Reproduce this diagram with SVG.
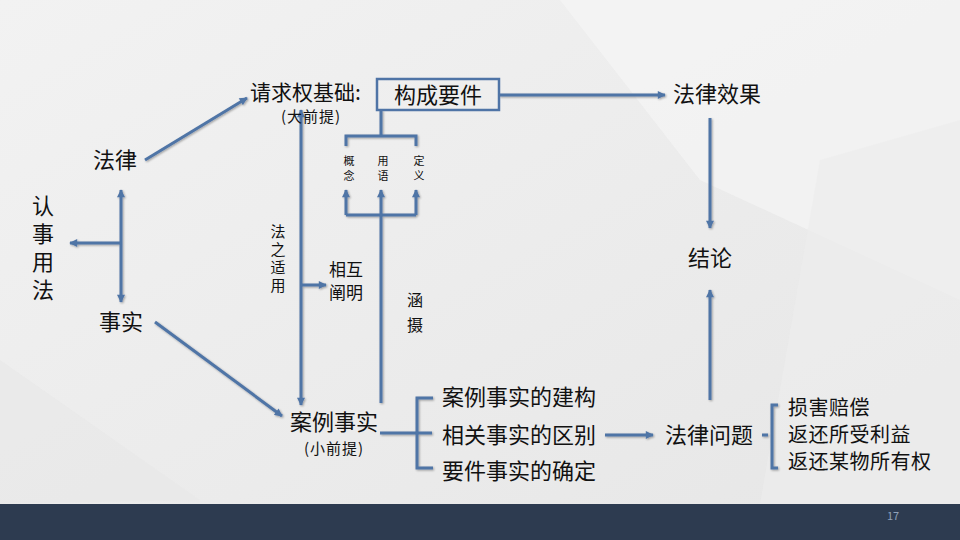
<svg xmlns="http://www.w3.org/2000/svg" width="960" height="540" viewBox="0 0 960 540">
<defs>
<linearGradient id="bg" x1="0" y1="0" x2="1" y2="1">
<stop offset="0" stop-color="#f2f2f2"/>
<stop offset="1" stop-color="#e6e6e6"/>
</linearGradient>
<marker id="ah" viewBox="0 0 10 10" refX="9" refY="5" markerWidth="9" markerHeight="8" markerUnits="userSpaceOnUse" orient="auto-start-reverse">
<path d="M0,0 L10,5 L0,10 z" fill="#4f74a6"/>
</marker>
<filter id="sh" x="-10%" y="-10%" width="120%" height="120%">
<feGaussianBlur in="SourceAlpha" stdDeviation="1"/>
<feOffset dx="1" dy="1"/>
<feComponentTransfer><feFuncA type="linear" slope="0.35"/></feComponentTransfer>
<feMerge><feMergeNode/><feMergeNode in="SourceGraphic"/></feMerge>
</filter>
</defs>
<style>
text{font-family:"Noto Sans CJK SC","Liberation Sans",sans-serif;fill:#111;}
.t{font-size:22px;}
.m{font-size:20px;}
.s{font-size:15px;}
.xs{font-size:11px;}
.v{writing-mode:vertical-rl;text-orientation:upright;}
.ln{stroke:#4f74a6;stroke-width:3;fill:none;}
.la{stroke:#4f74a6;stroke-width:3;fill:none;marker-end:url(#ah);}
.lb{stroke:#4f74a6;stroke-width:3;fill:none;marker-end:url(#ah);marker-start:url(#ah);}
</style>
<rect width="960" height="540" fill="url(#bg)"/>
<polygon points="560,0 960,0 960,300 700,180" fill="#f5f5f5" opacity="0.7"/>
<polygon points="0,360 200,500 0,504" fill="#e9e9e9" opacity="0.8"/>
<polygon points="820,160 960,120 960,504 760,504" fill="#ececec" opacity="0.7"/>
<rect x="0" y="504" width="960" height="36" fill="#2d3b50"/>
<text x="893" y="520" font-size="11" style="fill:#8fa0b8" font-family="Liberation Sans,sans-serif" text-anchor="middle">17</text>

<g id="connectors" filter="url(#sh)">
<line class="la" x1="145" y1="160" x2="247" y2="98"/>
<line class="la" x1="155" y1="322" x2="282" y2="416"/>
<line class="lb" x1="121" y1="190" x2="121" y2="302"/>
<line class="la" x1="121" y1="243" x2="70" y2="243"/>
<line class="la" x1="499" y1="95" x2="665" y2="95"/>
<line class="ln" x1="381" y1="110" x2="381" y2="136"/>
<polyline class="ln" points="346,146 346,136 416,136 416,146"/>
<line class="lb" x1="301" y1="110" x2="301" y2="405"/>
<line class="la" x1="301" y1="285" x2="326" y2="285"/>
<polyline class="ln" points="346,215 416,215"/>
<line class="la" x1="346" y1="215" x2="346" y2="190"/>
<line class="la" x1="416" y1="215" x2="416" y2="190"/>
<line class="la" x1="381" y1="403" x2="381" y2="190"/>
<line class="ln" x1="380" y1="433" x2="432" y2="433"/>
<polyline class="ln" points="433,398 417,398 417,468 433,468"/>
<line class="la" x1="605" y1="435" x2="653" y2="435"/>
<line class="ln" x1="762" y1="435" x2="768" y2="435"/>
<polyline class="ln" points="778,405 772,405 772,468 778,468"/>
<line class="la" x1="710" y1="118" x2="710" y2="228"/>
<line class="la" x1="710" y1="400" x2="710" y2="290"/>
</g>

<g id="n-qqjc"><text x="250" y="100" font-size="21">请求权基础:</text><text class="s" x="311" y="122" text-anchor="middle" letter-spacing="1">(大前提)</text></g>
<g id="n-gcyj"><rect x="377" y="79" width="122" height="31" fill="none" stroke="#4f74a6" stroke-width="2.5"/><text class="t" x="438" y="103" text-anchor="middle">构成要件</text></g>
<g id="n-flxg"><text class="t" x="717" y="102" text-anchor="middle">法律效果</text></g>
<g id="n-jl"><text class="t" x="710" y="266" text-anchor="middle">结论</text></g>
<g id="n-fl"><text class="t" x="115" y="168" text-anchor="middle">法律</text></g>
<g id="n-ss"><text class="t" x="121" y="330" text-anchor="middle">事实</text></g>
<g id="n-rsyf"><text class="t v" x="43" y="195" letter-spacing="6">认事用法</text></g>
<g id="n-gn"><text class="xs v" x="349" y="155" letter-spacing="4">概念</text></g>
<g id="n-yy"><text class="xs v" x="383" y="155" letter-spacing="4">用语</text></g>
<g id="n-dy"><text class="xs v" x="419" y="155" letter-spacing="4">定义</text></g>
<g id="n-fzsy"><text class="s v" x="278" y="224" letter-spacing="3">法之适用</text></g>
<g id="n-xhcm"><text x="329" y="276" font-size="17">相互</text><text x="329" y="299" font-size="17">阐明</text></g>
<g id="n-hs"><text class="v" x="415" y="292" font-size="16" letter-spacing="9">涵摄</text></g>
<g id="n-alss"><text class="t" x="334" y="430" text-anchor="middle">案例事实</text><text class="s" x="334" y="454" text-anchor="middle" letter-spacing="1">(小前提)</text></g>
<g id="n-list1"><text class="t" x="442" y="405">案例事实的建构</text><text class="t" x="442" y="443">相关事实的区别</text><text class="t" x="442" y="479">要件事实的确定</text></g>
<g id="n-flwt"><text class="t" x="709" y="443" text-anchor="middle">法律问题</text></g>
<g id="n-list2"><text class="m" x="788" y="415" letter-spacing="0.5">损害赔偿</text><text class="m" x="788" y="442" letter-spacing="0.5">返还所受利益</text><text class="m" x="788" y="469" letter-spacing="0.5">返还某物所有权</text></g>
</svg>
